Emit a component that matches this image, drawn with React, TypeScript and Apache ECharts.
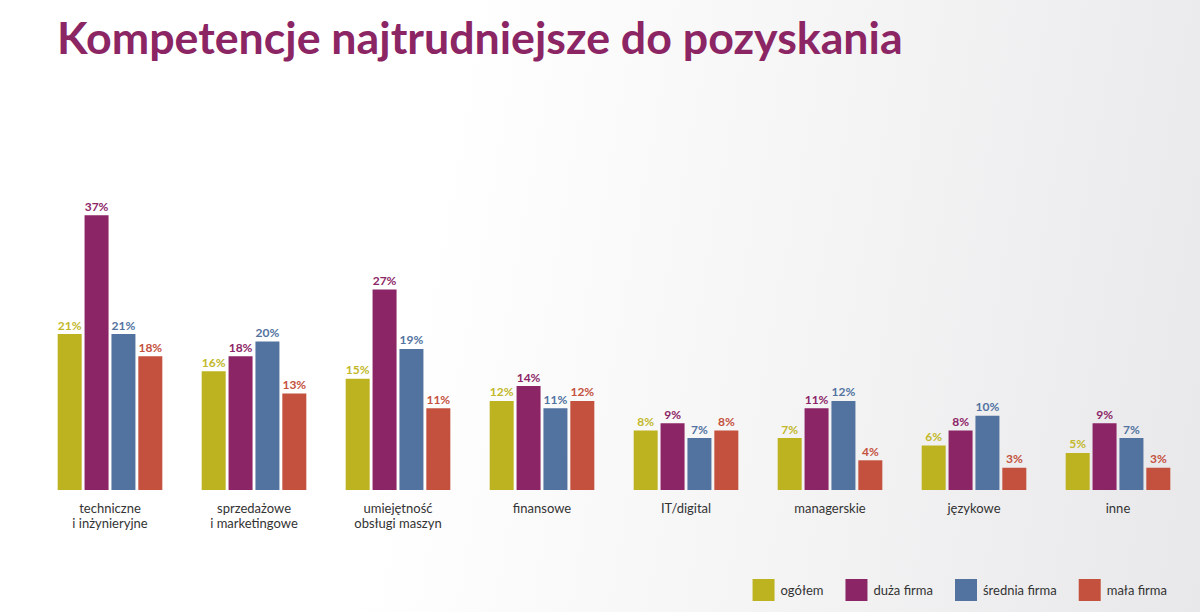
import React, { useEffect, useRef } from "react";
import * as echarts from "echarts";

const categories = [
  "techniczne\ni inżynieryjne",
  "sprzedażowe\ni marketingowe",
  "umiejętność\nobsługi maszyn",
  "finansowe",
  "IT/digital",
  "managerskie",
  "językowe",
  "inne",
];
const seriesNames = ["ogółem", "duża firma", "średnia firma", "mała firma"];
const ogolem = [21, 16, 15, 12, 8, 7, 6, 5];
const duza = [37, 18, 27, 14, 9, 11, 8, 9];
const srednia = [21, 20, 19, 11, 7, 12, 10, 7];
const mala = [18, 13, 11, 12, 8, 4, 3, 3];
const barColors = ["#BDB321", "#8C2566", "#5272A0", "#C4513D"];
const labelColors = ["#C2B82A", "#8C2566", "#5272A0", "#C4513D"];
const titleText = "Kompetencje najtrudniejsze do pozyskania";

export default function App() {
  const ref = useRef<HTMLDivElement>(null);
  useEffect(() => {
    document.body.style.margin = "0";
    const chart = echarts.init(ref.current!, null, { renderer: "svg" });
    const data = [ogolem, duza, srednia, mala];
    chart.setOption({
      animation: false,
      graphic: [
        {
          type: "text",
          x: 57,
          y: 16,
          scaleX: 1.04,
          style: {
            text: titleText,
            font: "bold 43px Lato, 'Open Sans', sans-serif",
            fill: "#8B2564",
            textVerticalAlign: "top",
          },
        },
      ],
      legend: {
        right: 33,
        top: 579,
        padding: 0,
        itemWidth: 22,
        itemHeight: 22,
        itemGap: 22,
        icon: "rect",
        data: seriesNames,
        textStyle: { fontFamily: "Lato, 'Open Sans', sans-serif", fontSize: 13, color: "#333", padding: [0, 0, 0, 1] },
      },
      grid: { left: 38, right: 10, top: 193, bottom: 122, containLabel: false },
      xAxis: {
        type: "category",
        data: categories,
        axisLine: { show: false },
        axisTick: { show: false },
        axisLabel: {
          margin: 10,
          fontFamily: "Lato, 'Open Sans', sans-serif",
          fontSize: 13,
          lineHeight: 15,
          color: "#333",
        },
      },
      yAxis: {
        type: "value",
        min: 0,
        max: 40,
        show: false,
        splitLine: { show: false },
      },
      series: seriesNames.map((name, i) => ({
        name,
        type: "bar",
        data: data[i],
        barWidth: 24,
        barGap: "12%",
        itemStyle: { color: barColors[i] },
        label: {
          show: true,
          position: "top",
          distance: 3,
          formatter: "{c}%",
          fontFamily: "Lato, 'Open Sans', sans-serif",
          fontWeight: "bold",
          fontSize: 12,
          color: labelColors[i],
        },
      })),
    });
    return () => chart.dispose();
  }, []);
  return (
    <div
      style={{
        position: "fixed",
        left: 0,
        top: 0,
        width: 1200,
        height: 612,
        background: "linear-gradient(100deg, #ffffff 0%, #ffffff 35%, #f3f3f4 70%, #e8e8ea 100%)",
      }}
    >
      <div ref={ref} style={{ width: 1200, height: 612 }} />
    </div>
  );
}
